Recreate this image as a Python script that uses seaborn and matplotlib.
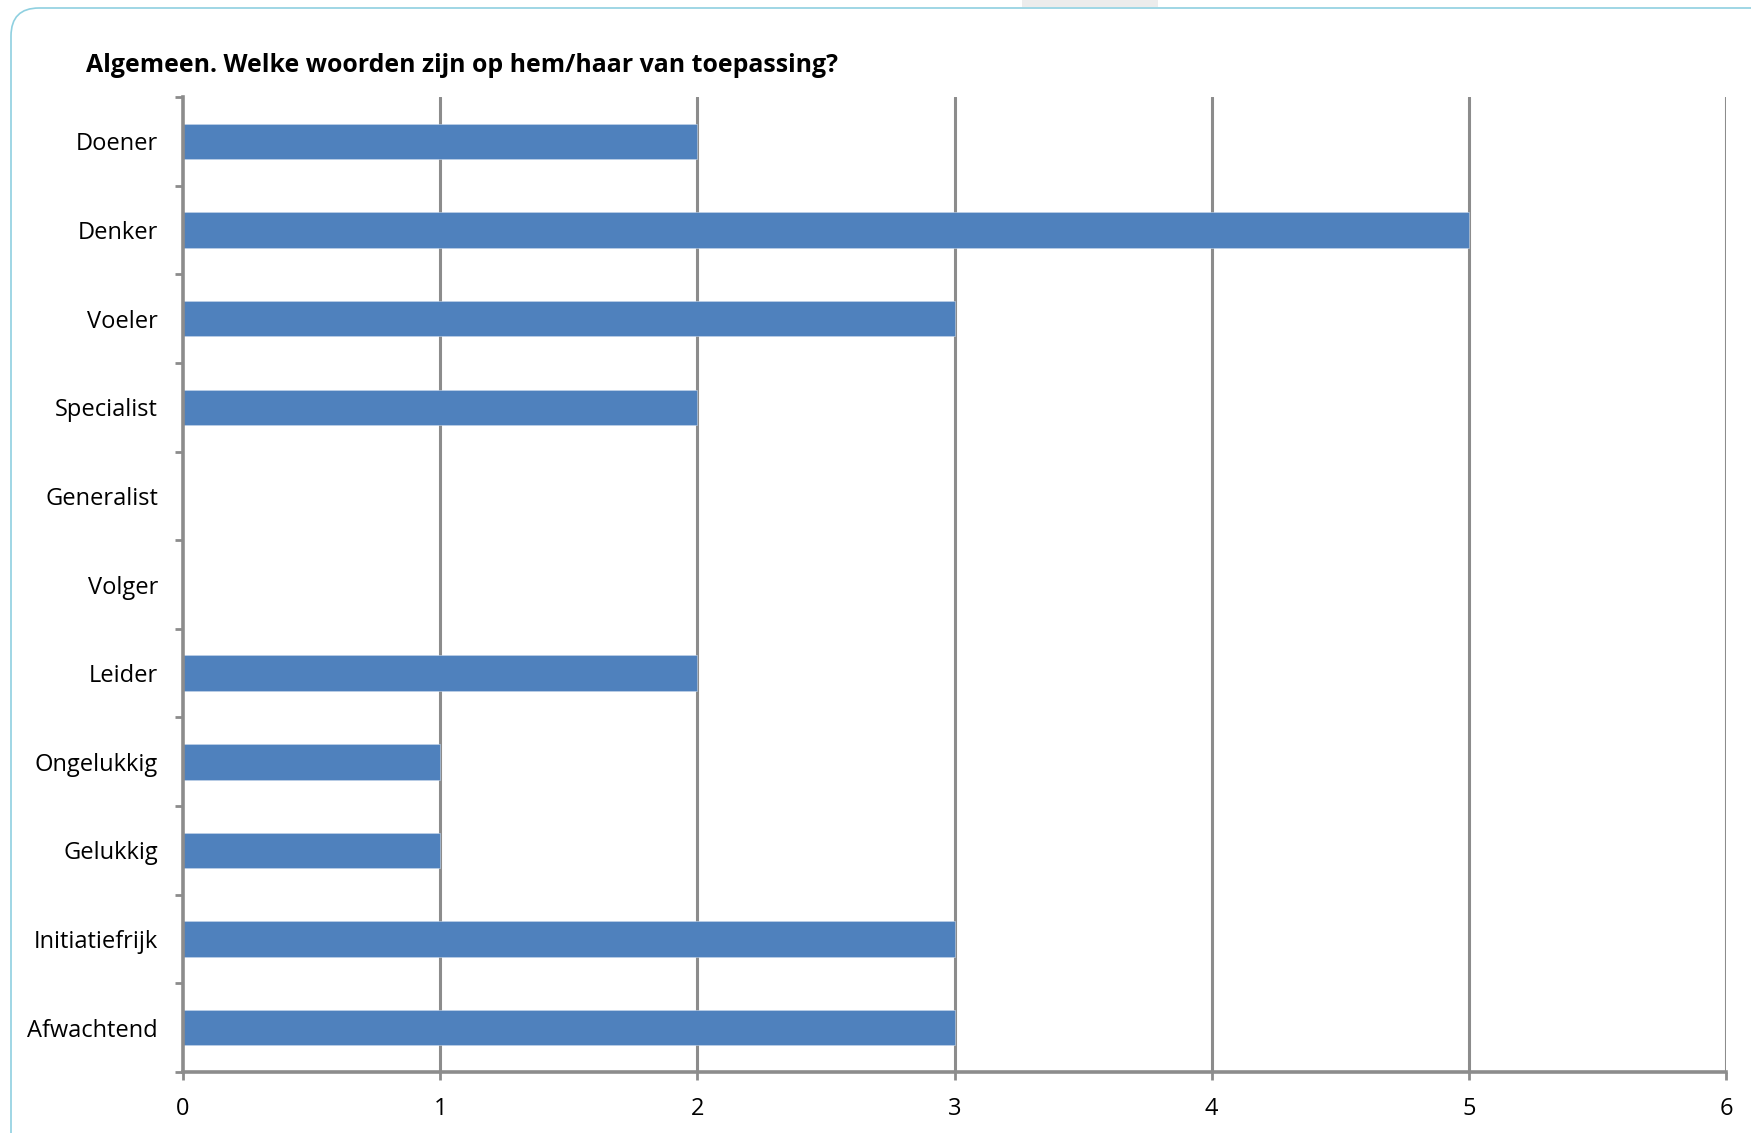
import matplotlib
matplotlib.use("Agg")
import matplotlib.pyplot as plt
import seaborn as sns
import pandas as pd
from matplotlib.patches import FancyBboxPatch, Rectangle
from matplotlib.transforms import IdentityTransform

# data
categories = ["Doener", "Denker", "Voeler", "Specialist", "Generalist", "Volger",
              "Leider", "Ongelukkig", "Gelukkig", "Initiatiefrijk", "Afwachtend"]
counts = [2, 5, 3, 2, 0, 0, 2, 1, 1, 3, 3]
x_ticks = [0, 1, 2, 3, 4, 5, 6]
title = "Algemeen. Welke woorden zijn op hem/haar van toepassing?"

df = pd.DataFrame({"woord": categories, "aantal": counts})

sns.set_style("white")
plt.rcParams["font.family"] = ["Open Sans", "DejaVu Sans"]
plt.rcParams["text.color"] = "black"
plt.rcParams["xtick.labelcolor"] = "black"
plt.rcParams["ytick.labelcolor"] = "black"

W, H = 1751, 1133
fig = plt.figure(figsize=(W / 100, H / 100), dpi=100)
ax = fig.add_axes([183 / W, 61 / H, (1726 - 183) / W, (1072 - 97) / H])

sns.barplot(data=df, x="aantal", y="woord", order=categories, orient="h",
            color="#4f81bd", saturation=1, width=0.4, edgecolor="#c6d6ea",
            linewidth=0.4, ax=ax, zorder=3)

grey = "#8c8c8c"
ax.set_xlim(0, 6)
ax.set_ylim(10.5, -0.5)
ax.set_xticks(x_ticks)
ax.set_xticklabels([str(t) for t in x_ticks])
ax.set_xlabel("")
ax.set_ylabel("")
for x in x_ticks[1:]:
    ax.axvline(x, color=grey, lw=2.2, zorder=1)

for s in ["top", "right"]:
    ax.spines[s].set_visible(False)
for s in ["left", "bottom"]:
    ax.spines[s].set_color(grey)
    ax.spines[s].set_linewidth(2.6)
    ax.spines[s].set_zorder(4)

ax.set_yticks([i - 0.5 for i in range(len(categories) + 1)], minor=True)
ax.tick_params(axis="y", which="major", length=0, pad=18, labelsize=17)
ax.tick_params(axis="y", which="minor", length=6, width=2, color=grey, left=True)
ax.tick_params(axis="x", which="major", length=6, width=2, color=grey,
               bottom=True, pad=12, labelsize=17)

fig.text(86 / W, 1 - 65 / H, title, fontsize=17.9, fontweight="bold",
         ha="left", va="center")

# rounded frame and grey tab at the top
frame = FancyBboxPatch((11, -40), 1780, H - 8 + 40,
                       boxstyle="round,pad=0,rounding_size=28",
                       transform=IdentityTransform(), fill=False,
                       edgecolor="#8fd0e0", linewidth=1.2)
fig.patches.append(frame)
tab = Rectangle((1022, H - 7), 136, 7, transform=IdentityTransform(),
                facecolor="#ececec", edgecolor="none")
fig.patches.append(tab)

fig.savefig("out.png", dpi=100)
